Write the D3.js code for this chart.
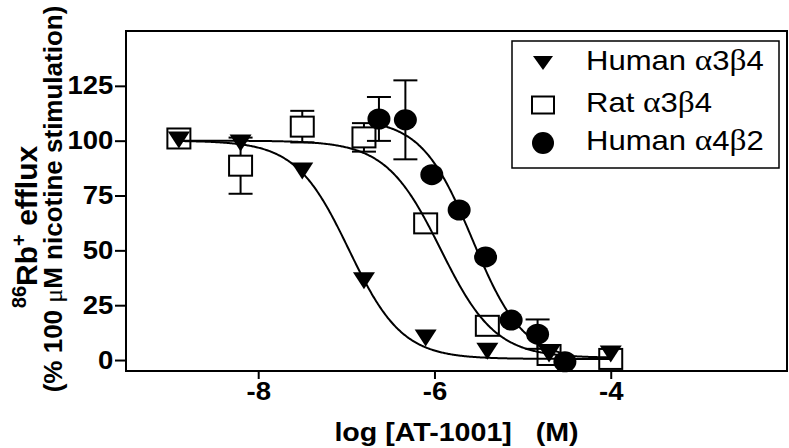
<!DOCTYPE html>
<html>
<head>
<meta charset="utf-8">
<script src="https://cdn.jsdelivr.net/npm/d3@7"></script>
<style>
  body { margin: 0; background: #fff; }
  svg { display: block; font-family: "Liberation Sans", Arial, sans-serif; }
</style>
</head>
<body>
<div id="chart"></div>
<script>
// log concentrations (M) for each receptor
const xHumanA3B4 = [-8.9, -8.2, -7.5, -6.8, -6.1, -5.4, -4.7, -4.0]
const yHumanA3B4 = [100.5, 99.2, 86.4, 36.4, 10.3, 4.2, 3.0, 3.0]
const eHumanA3B4 = [0, 0, 0, 0, 0, 0, 0, 0]

const xRatA3B4 = [-8.9, -8.2, -7.5, -6.8, -6.1, -5.4, -4.7, -4.0]
const yRatA3B4 = [101, 88.6, 106.4, 101.5, 62.3, 15.6, 2.3, 0.5]
const eRatA3B4 = [0, 12.8, 7.2, 6.5, 0, 0, 3, 0]

const xHumanA4B2 = [-6.63, -6.33, -6.03, -5.72, -5.42, -5.13, -4.83, -4.52]
const yHumanA4B2 = [109.9, 109.5, 84.5, 68.4, 47, 18.2, 11.8, -0.8]
const eHumanA4B2 = [10, 18, 0, 0, 0, 0, 6.7, 0]

// fitted sigmoid curves: [human a3b4, rat a3b4, human a4b2]
const fitLogIC50 = [-6.97, -5.93, -5.57]
const fitHill = [1.44, 1.4, 1.5]
const fitTop = [100, 100, 110]
const fitBottom = [0.5, 1, 0]

const yTicks = [0, 25, 50, 75, 100, 125]
const xTicks = [-8, -6, -4]
const legendLabels = [["Human ", "3", "4"], ["Rat ", "3", "4"], ["Human ", "4", "2"]]

const W = 789, H = 448
const svg = d3.select("#chart").append("svg").attr("width", W).attr("height", H)

const x = d3.scaleLinear().domain([-9.5, -2]).range([126, 787])
const y = d3.scaleLinear().domain([-5, 150]).range([371, 31])

// frame
svg.append("rect")
  .attr("x", x(-9.5)).attr("y", y(150))
  .attr("width", x(-2) - x(-9.5)).attr("height", y(-5) - y(150))
  .attr("fill", "none").attr("stroke", "#000").attr("stroke-width", 2)

// axes
const yAxis = svg.append("g")
  .attr("transform", `translate(${x(-9.5)},0)`)
  .call(d3.axisLeft(y).tickValues(yTicks).tickSize(11).tickPadding(0.5))
const xAxis = svg.append("g")
  .attr("transform", `translate(0,${y(-5)})`)
  .call(d3.axisBottom(x).tickValues(xTicks).tickSize(8).tickPadding(3).tickFormat(d3.format("d")))

for (const g of [xAxis, yAxis]) {
  g.select(".domain").remove()
  g.selectAll("line").attr("stroke", "#000").attr("stroke-width", 2)
  g.selectAll("text")
    .attr("fill", "#000")
    .attr("transform", "scale(1.1,1)")
    .style("font-family", "'Liberation Sans', Arial, sans-serif")
    .style("font-size", "25px")
    .style("font-weight", "bold")
}
xAxis.selectAll("text").text(d => "-" + Math.abs(d))

// axis titles
svg.append("text")
  .attr("transform", `translate(${(x(-9.5) + x(-2)) / 2},441) scale(1.1,1)`)
  .attr("text-anchor", "middle")
  .style("white-space", "pre")
  .style("font-size", "26px").style("font-weight", "bold")
  .text("log [AT-1001]   (M)")

const yl1 = svg.append("text")
  .attr("transform", "translate(37,227) rotate(-90)")
  .attr("text-anchor", "middle")
  .style("font-size", "30px").style("font-weight", "bold")
yl1.append("tspan").attr("baseline-shift", "super").style("font-size", "20px").text("86")
yl1.append("tspan").text("Rb")
yl1.append("tspan").attr("baseline-shift", "super").style("font-size", "20px").text("+")
yl1.append("tspan").text(" efflux")

const yl2 = svg.append("text")
  .attr("transform", "translate(62,199) rotate(-90)")
  .attr("text-anchor", "middle")
  .style("font-size", "26px").style("font-weight", "bold")
yl2.append("tspan").text("(% 100 ")
yl2.append("tspan").style("font-family", "'Liberation Serif', serif").style("font-weight", "normal").text("\u03bc")
yl2.append("tspan").text("M nicotine stimulation)")

const hill = (i, lx) => fitBottom[i] + (fitTop[i] - fitBottom[i]) / (1 + Math.pow(10, fitHill[i] * (lx - fitLogIC50[i])))
const line = d3.line().x(d => x(d[0])).y(d => y(d[1]))

function drawErrors(xs, ys, es) {
  xs.forEach((xv, i) => {
    if (!es[i]) return
    const g = svg.append("g").attr("stroke", "#000").attr("stroke-width", 2)
    g.append("line").attr("x1", x(xv)).attr("x2", x(xv)).attr("y1", y(ys[i] - es[i])).attr("y2", y(ys[i] + es[i]))
    for (const v of [ys[i] - es[i], ys[i] + es[i]]) {
      g.append("line").attr("x1", x(xv) - 12).attr("x2", x(xv) + 12).attr("y1", y(v)).attr("y2", y(v))
    }
  })
}

const triPath = "M-11,-8L11,-8L0,9Z"

function drawSquares(sel) {
  sel.append("rect").attr("x", -11.5).attr("y", -10).attr("width", 23).attr("height", 20)
    .attr("fill", "#fff").attr("stroke", "#000").attr("stroke-width", 2)
}

// rat a3b4: error bars and open squares
drawErrors(xRatA3B4, yRatA3B4, eRatA3B4)
svg.selectAll(".sq").data(xRatA3B4).enter().append("g")
  .attr("transform", (d, i) => `translate(${x(d)},${y(yRatA3B4[i])})`)
  .call(drawSquares)

// fitted curves
const curveX = [xHumanA3B4, xRatA3B4, xHumanA4B2]
curveX.forEach((xs, i) => {
  const lo = d3.min(xs), hi = d3.max(xs)
  const pts = d3.range(lo, hi + 0.001, 0.01).map(lx => [lx, hill(i, lx)])
  svg.append("path").attr("d", line(pts)).attr("fill", "none").attr("stroke", "#000").attr("stroke-width", 2)
})

// human a3b4 triangles
svg.selectAll(".tri").data(xHumanA3B4).enter().append("path")
  .attr("d", triPath)
  .attr("transform", (d, i) => `translate(${x(d)},${y(yHumanA3B4[i])})`)
  .attr("fill", "#000")

// human a4b2 circles
drawErrors(xHumanA4B2, yHumanA4B2, eHumanA4B2)
svg.selectAll(".circ").data(xHumanA4B2).enter().append("ellipse")
  .attr("cx", d => x(d)).attr("cy", (d, i) => y(yHumanA4B2[i]))
  .attr("rx", 11.5).attr("ry", 10.5).attr("fill", "#000")

// legend
svg.append("rect").attr("x", 512).attr("y", 41).attr("width", 267).attr("height", 127)
  .attr("fill", "#fff").attr("stroke", "#000").attr("stroke-width", 1.5)
const legY = [63, 105, 143]
svg.append("path").attr("d", "M-10,-7L10,-7L0,7Z").attr("transform", `translate(543,${legY[0]})`).attr("fill", "#000")
svg.append("rect").attr("x", 532).attr("y", legY[1] - 8.5).attr("width", 22).attr("height", 17)
  .attr("fill", "#fff").attr("stroke", "#000").attr("stroke-width", 2)
svg.append("circle").attr("cx", 543).attr("cy", legY[2]).attr("r", 11).attr("fill", "#000")

legendLabels.forEach((lab, i) => {
  const t = svg.append("text")
    .attr("transform", `translate(586,${legY[i] + 7}) scale(1.15,1)`)
    .style("font-size", "27px")
  t.append("tspan").text(lab[0])
  t.append("tspan").style("font-family", "'Liberation Serif', serif").style("font-size", "29px").text("\u03b1")
  t.append("tspan").text(lab[1])
  t.append("tspan").style("font-family", "'Liberation Serif', serif").style("font-size", "29px").text("\u03b2")
  t.append("tspan").text(lab[2])
})
</script>
</body>
</html>
